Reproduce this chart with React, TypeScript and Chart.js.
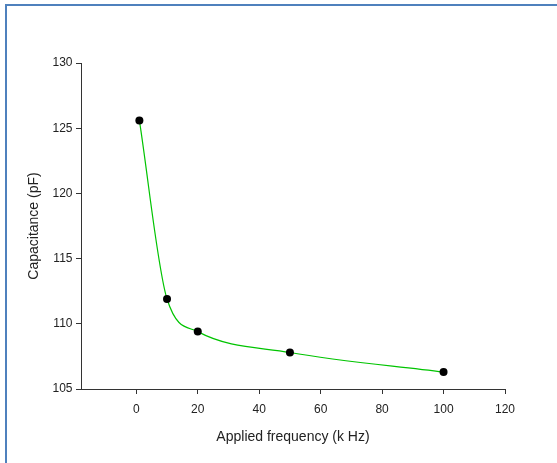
import React, { useEffect, useRef } from "react";
import { Chart, registerables } from "chart.js";

Chart.register(...registerables);

const frequencies = [1, 10, 20, 50, 100];
const capacitance = [125.6, 111.9, 109.4, 107.8, 106.3];
const xTicks = [0, 20, 40, 60, 80, 100, 120];
const xTitle = "Applied frequency (k Hz)";
const yTitle = "Capacitance (pF)";

const FONT = "'Liberation Sans', Arial, sans-serif";

export default function App() {
  const ref = useRef<HTMLCanvasElement | null>(null);

  useEffect(() => {
    document.body.style.margin = "0";
    const canvas = ref.current;
    if (!canvas) return;
    const chart = new Chart(canvas, {
      type: "line",
      data: {
        datasets: [
          {
            data: frequencies.map((x, i) => ({ x, y: capacitance[i] })),
            borderColor: "#00c400",
            borderWidth: 1.2,
            backgroundColor: "#000000",
            pointBackgroundColor: "#000000",
            pointBorderWidth: 0,
            pointRadius: 4,
            cubicInterpolationMode: "monotone",
            fill: false,
          },
        ],
      },
      options: {
        responsive: false,
        animation: false,
        events: [],
        layout: { padding: { left: 0, top: 63, right: 52, bottom: 0 } },
        plugins: { legend: { display: false }, tooltip: { enabled: false } },
        scales: {
          x: {
            type: "linear",
            min: -18,
            max: 120,
            afterBuildTicks: (scale: any) => {
              scale.ticks = xTicks.map((v) => ({ value: v }));
            },
            afterFit: (scale: any) => {
              scale.height = 74;
            },
            border: { display: true, color: "#333333", width: 1 },
            grid: {
              display: true,
              drawOnChartArea: false,
              drawTicks: true,
              tickLength: 5,
              color: "#333333",
            },
            ticks: {
              color: "#222222",
              font: { family: FONT, size: 12 },
              padding: 8,
              maxRotation: 0,
              autoSkip: false,
            },
            title: {
              display: true,
              text: xTitle,
              color: "#222222",
              font: { family: FONT, size: 14 },
              padding: { top: 0, bottom: 17.6 },
            },
          },
          y: {
            type: "linear",
            min: 105,
            max: 130,
            afterFit: (scale: any) => {
              scale.width = 81;
            },
            border: { display: true, color: "#333333", width: 1 },
            grid: {
              display: true,
              drawOnChartArea: false,
              drawTicks: true,
              tickLength: 5,
              color: "#333333",
            },
            ticks: {
              stepSize: 5,
              color: "#222222",
              font: { family: FONT, size: 12 },
              padding: 3.5,
            },
            title: {
              display: true,
              text: yTitle,
              color: "#222222",
              font: { family: FONT, size: 14 },
              padding: { top: 25.6, bottom: 0 },
            },
          },
        },
      },
    });
    return () => chart.destroy();
  }, []);

  return (
    <div style={{ position: "absolute", left: 0, top: 0, width: 557, height: 463, background: "#ffffff", overflow: "hidden" }}>
      <div
        style={{
          position: "absolute",
          left: 5,
          top: 4,
          width: 600,
          height: 500,
          borderTop: "2px solid #4f81bd",
          borderLeft: "2px solid #4f81bd",
        }}
      />
      <canvas ref={ref} width={557} height={463} style={{ position: "absolute", left: 0, top: 0 }} />
    </div>
  );
}
